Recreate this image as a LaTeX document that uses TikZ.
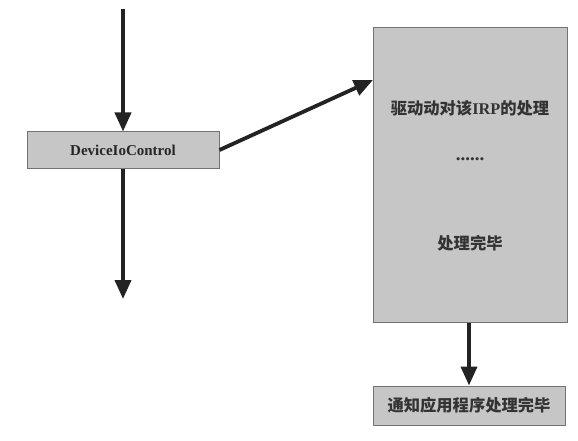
\documentclass[tikz,border=0pt]{standalone}
\usepackage{fontspec}
\setmainfont{Liberation Serif}
\newfontfamily\cjk{Noto Sans CJK SC}
\usetikzlibrary{arrows.meta}
\definecolor{boxfill}{RGB}{198,198,198}
\definecolor{boxline}{RGB}{115,115,115}
\definecolor{arrowcol}{RGB}{35,35,35}
\tikzset{
  graybox/.style={draw=boxline, fill=boxfill, line width=1pt, inner sep=0pt},
  arr/.style={draw=arrowcol, line width=3.8pt, -{Triangle[length=19pt,width=16pt]}},
  lbl/.style={font=\fontsize{15}{18}\selectfont\bfseries, text=black!85},
  dots/.style={font=\fontsize{19}{20}\selectfont\bfseries, text=black!80},
  cjklbl/.style={font=\fontsize{16.3}{19}\selectfont\cjk\bfseries, text=black!80}
}
\begin{document}
\begin{tikzpicture}[x=1pt,y=-1pt]
\useasboundingbox (0,0) rectangle (578,441);
% boxes
\node[graybox, minimum width=192pt, minimum height=36pt, lbl] (dic) at (123,150) {DeviceIoControl};
\node[graybox, minimum width=194pt, minimum height=294pt] (big) at (470,175) {};
\node[graybox, minimum width=192pt, minimum height=39pt, cjklbl] (note) at (469,405.5) {通知应用程序处理完毕};
% texts inside big box
\node[cjklbl] (t1) at (470,108) {驱动动对该{\fontspec{Liberation Serif}\bfseries IRP}的处理};
\node[dots] (t2) at (470,159) {......};
\node[cjklbl] (t3) at (470,243) {处理完毕};
% free ends
\coordinate (top) at (123,9);
\coordinate (down) at (123,299);
\coordinate (bigin) at (373,80);
% arrows
\draw[arr] (top) -- (dic.north);
\draw[arr] (dic.south) -- (down);
\draw[arr] (dic.east) -- (bigin);
\draw[arr] (big.south -| note.north) -- (note.north);
\end{tikzpicture}
\end{document}
